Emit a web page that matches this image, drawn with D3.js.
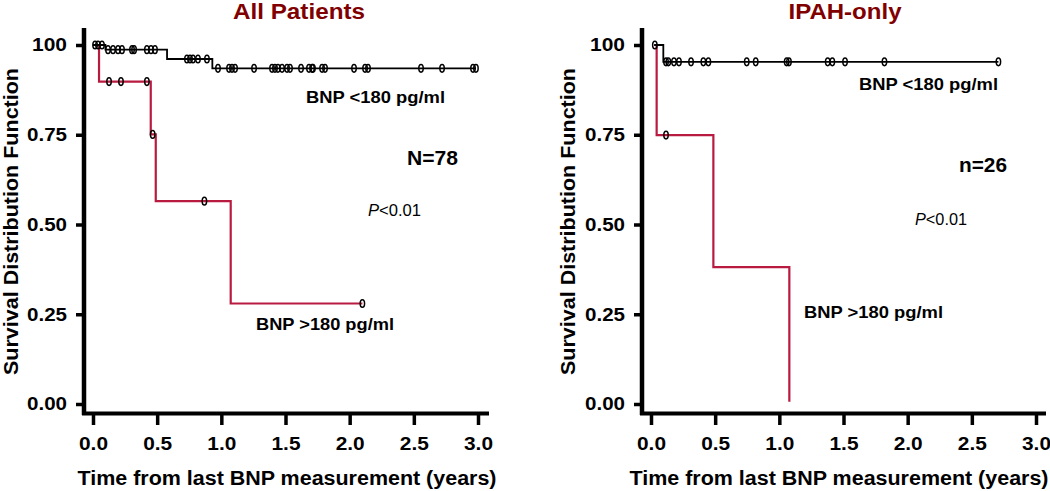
<!DOCTYPE html>
<html>
<head>
<meta charset="utf-8">
<script src="https://cdn.jsdelivr.net/npm/d3@7"></script>
<style>
body{margin:0;background:#fff}
svg{display:block;font-family:"Liberation Sans",Arial,sans-serif}
</style>
</head>
<body>
<svg width="1050" height="491"></svg>
<script>
// ---- data ----
var xTicks = [0, 0.5, 1, 1.5, 2, 2.5, 3]
var yTicks = [0, 0.25, 0.5, 0.75, 1]
var yTickLabels = ["0.00", "0.25", "0.50", "0.75", "100"]

// all patients, BNP <180: step points [time, survival]
var allLowSteps = [[0, 1], [0.097, 0.987], [0.577, 0.961], [0.93, 0.935], [2.984, 0.935]]
var allLowCensor = [0.016, 0.039, 0.07, 0.117, 0.156, 0.195, 0.226, 0.304, 0.32, 0.42, 0.452, 0.483,
  0.732, 0.756, 0.779, 0.818, 0.888, 0.974, 1.06, 1.083, 1.107, 1.255, 1.395, 1.418, 1.441, 1.473,
  1.512, 1.535, 1.621, 1.683, 1.707, 1.714, 1.785, 1.808, 2.034, 2.12, 2.143, 2.556, 2.72, 2.961, 2.984]
// all patients, BNP >180
var allHighSteps = [[0, 1], [0.047, 0.898], [0.45, 0.751], [0.489, 0.565], [1.073, 0.28], [2.099, 0.28]]
var allHighCensor = [0.125, 0.218, 0.42, 0.465, 0.868, 2.099]

// IPAH only, BNP <180
var ipahLowSteps = [[0.025, 1], [0.096, 0.953], [2.707, 0.953]]
var ipahLowCensor = [0.03, 0.117, 0.135, 0.179, 0.218, 0.312, 0.408, 0.447, 0.746, 0.816, 1.057,
  1.075, 1.377, 1.413, 1.512, 1.819, 2.707]
// IPAH only, BNP >180
var ipahHighSteps = [[0.025, 1], [0.044, 0.749], [0.486, 0.381], [1.078, 0.006]]
var ipahHighCensor = [0.117]

var svg = d3.select("svg")
var red = "#b81a40"

// level of a step curve at time t
var levelAt = function(steps, t) {
  var s = steps[0][1]
  steps.forEach(function(p) { if (p[0] <= t) s = p[1] })
  return s
}

// text squeezed/stretched to the width seen in the picture
var label = function(g, txt, x, y, size, width, opts) {
  opts = opts || {}
  var t = g.append("text")
    .attr("x", x).attr("y", y)
    .attr("font-size", size)
    .attr("font-weight", opts.normal ? "normal" : "bold")
    .attr("fill", opts.fill || "#000")
    .attr("text-anchor", opts.anchor || "start")
  if (opts.rotate) t.attr("transform", "rotate(-90," + x + "," + y + ")")
  if (opts.italicFirst) {
    t.append("tspan").attr("font-style", "italic").text(txt[0])
    t.append("tspan").text(txt.slice(1))
  } else {
    t.text(txt)
  }
  if (width) t.attr("textLength", width).attr("lengthAdjust", "spacingAndGlyphs")
  return t
}

var drawPanel = function(p) {
  var g = svg.append("g")
  var x = d3.scaleLinear().domain([0, 3]).range(p.xr)
  var y = d3.scaleLinear().domain([0, 1]).range([404, 45])

  // axes: thick frame lines plus tick stubs
  g.append("line").attr("x1", p.axisX).attr("x2", p.axisX).attr("y1", 28).attr("y2", 415)
    .attr("stroke", "#000").attr("stroke-width", 4.5)
  g.append("line").attr("x1", p.axisX - 2).attr("x2", p.axisEnd).attr("y1", 413.5).attr("y2", 413.5)
    .attr("stroke", "#000").attr("stroke-width", 4)

  var xa = g.append("g").attr("transform", "translate(0,415)")
    .call(d3.axisBottom(x).tickValues(xTicks).tickSize(10).tickPadding(12).tickFormat(d3.format(".1f")))
  xa.select(".domain").remove()
  xa.selectAll("line").attr("stroke-width", 3.5)
  xa.selectAll("text").attr("font-size", 19).attr("font-weight", "bold").attr("font-family", null)
    .attr("textLength", 29).attr("lengthAdjust", "spacingAndGlyphs")

  var ya = g.append("g").attr("transform", "translate(" + (p.axisX - 2) + ",0)")
    .call(d3.axisLeft(y).tickValues(yTicks).tickSize(6).tickPadding(9)
      .tickFormat(function(d, i) { return yTickLabels[i] }))
  ya.select(".domain").remove()
  ya.selectAll("line").attr("stroke-width", 3.5)
  ya.selectAll("text").attr("font-size", 18).attr("font-weight", "bold").attr("font-family", null)
    .attr("textLength", function(d, i) { return yTickLabels[i].length == 3 ? 35 : 40 })
    .attr("lengthAdjust", "spacingAndGlyphs")

  var line = d3.line().curve(d3.curveStepAfter)
    .x(function(d) { return x(d[0]) }).y(function(d) { return y(d[1]) })

  var curves = [
    {steps: p.high, censor: p.highCensor, color: red, w: 2.2},
    {steps: p.low, censor: p.lowCensor, color: "#000", w: 1.8}
  ]
  curves.forEach(function(c) {
    g.append("path").datum(c.steps).attr("d", line)
      .attr("fill", "none").attr("stroke", c.color).attr("stroke-width", c.w)
    g.selectAll(null).data(c.censor).enter().append("ellipse")
      .attr("cx", function(d) { return x(d) })
      .attr("cy", function(d) { return y(levelAt(c.steps, d)) })
      .attr("rx", 2.2).attr("ry", 3.8)
      .attr("fill", "none").attr("stroke", "#000").attr("stroke-width", 1.5)
  })

  // titles
  label(g, p.title, p.titleX, 19, 22, p.titleW, {anchor: "middle", fill: "#800000"})
  label(g, "Time from last BNP measurement (years)", p.xTitleX, 485, 20, 419, {anchor: "middle"})
  label(g, "Survival Distribution Function", p.yTitleX, 221.5, 21, 307, {anchor: "middle", rotate: true})

  // annotations
  p.notes.forEach(function(n) {
    label(g, n.t, n.x, n.y, n.size, n.w, {normal: n.normal, italicFirst: n.italic})
  })
}

drawPanel({
  xr: [93, 478], axisX: 84, axisEnd: 489,
  title: "All Patients", titleX: 299, titleW: 132,
  xTitleX: 287, yTitleX: 18,
  low: allLowSteps, lowCensor: allLowCensor,
  high: allHighSteps, highCensor: allHighCensor,
  notes: [
    {t: "BNP <180 pg/ml", x: 306, y: 103, size: 17, w: 139},
    {t: "N=78", x: 407, y: 165, size: 20, w: 51},
    {t: "P<0.01", x: 368, y: 216, size: 16, w: 53, normal: true, italic: true},
    {t: "BNP >180 pg/ml", x: 256, y: 330, size: 17, w: 138}
  ]
})

drawPanel({
  xr: [651, 1036], axisX: 642, axisEnd: 1046,
  title: "IPAH-only", titleX: 845, titleW: 113,
  xTitleX: 839, yTitleX: 575,
  low: ipahLowSteps, lowCensor: ipahLowCensor,
  high: ipahHighSteps, highCensor: ipahHighCensor,
  notes: [
    {t: "BNP <180 pg/ml", x: 859, y: 90, size: 17, w: 139},
    {t: "n=26", x: 959, y: 172, size: 20, w: 48},
    {t: "P<0.01", x: 915, y: 225, size: 16, w: 52, normal: true, italic: true},
    {t: "BNP >180 pg/ml", x: 804, y: 318, size: 17, w: 139}
  ]
})
</script>
</body>
</html>
